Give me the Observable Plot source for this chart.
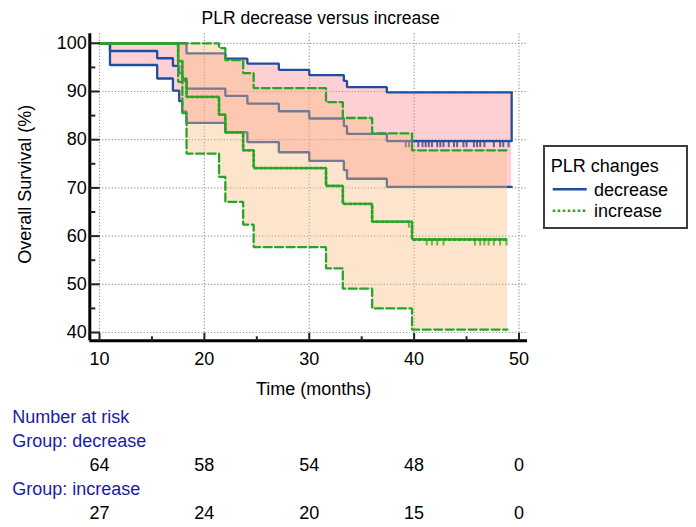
<!DOCTYPE html>
<html><head><meta charset="utf-8">
<script src="https://cdn.jsdelivr.net/npm/d3@7"></script>
<script src="https://cdn.jsdelivr.net/npm/@observablehq/plot@0.6"></script>
<style>
html,body{margin:0;padding:0;background:#fff;}
#wrap{position:relative;width:696px;height:527px;overflow:hidden;}
#wrap svg{display:block;}
#legend{position:absolute;left:543px;top:145px;width:145px;height:84px;box-sizing:border-box;border:2px solid #3c3c3c;background:#fff;font-family:"Liberation Sans",Arial,sans-serif;font-size:18px;line-height:18px;color:#000;}
#legend span{position:absolute;white-space:nowrap;}
#legend svg{position:absolute;left:0;top:0;overflow:visible;}
</style></head><body><div id="wrap"></div>
<script>
// ---- data ----
const title = "PLR decrease versus increase";
const xLabel = "Time (months)";
const yLabel = "Overall Survival (%)";
const legendTitle = "PLR changes";
const groups = ["decrease", "increase"];

const xMajor = [10, 20, 30, 40, 50];
const xMinor = [15, 25, 35, 45];
const yMajor = [40, 50, 60, 70, 80, 90, 100];
const yMinor = [45, 55, 65, 75, 85, 95];

// decrease group (Kaplan-Meier estimate with confidence band)
const decT   = [10, 11.0, 15.5, 17.0, 17.6, 17.9, 18.3, 22.0, 24.1, 27.1, 30.0, 33.3, 33.6, 37.4, 49.3];
const decEst = [100, 98.4, 96.9, 95.3, 93.8, 92.2, 90.6, 89.1, 87.5, 85.9, 84.4, 82.8, 81.2, 79.7, 79.7];
const decLow = [100, 95.5, 92.7, 90.2, 88.0, 85.8, 83.5, 81.5, 79.5, 77.4, 75.6, 73.7, 71.9, 70.2, 70.2];
const decUp  = [100, 100, 100, 100, 100, 100, 97.9, 96.8, 95.8, 94.5, 93.4, 92.2, 90.9, 89.8, 89.8];
const decCens = [39.2, 39.5, 39.8, 40.4, 40.8, 41.1, 41.4, 41.7, 42.2, 42.5, 42.8, 43.3, 43.8, 44.1, 44.7, 45.0, 45.7, 46.0, 46.3, 46.7, 47.6, 48.2, 48.5, 49.0];

// increase group
const incT   = [10, 17.5, 17.9, 18.3, 21.4, 22.0, 23.7, 24.7, 31.6, 33.2, 36.0, 39.8, 48.9];
const incEst = [100, 96.3, 92.6, 88.9, 85.2, 81.5, 77.8, 74.1, 70.4, 66.7, 63.0, 59.3, 59.3];
const incLow = [100, 92.0, 85.5, 77.1, 72.3, 67.1, 62.4, 57.7, 53.3, 49.1, 45.0, 40.6, 40.6];
const incUp  = [100, 100, 100, 100, 99.0, 96.5, 93.8, 90.7, 87.8, 84.5, 81.3, 77.8, 77.8];
const incCens = [39.5, 41.2, 41.7, 42.2, 42.8, 45.8, 46.3, 46.7, 47.1, 47.6, 48.2, 48.8];

// number at risk
const riskTimes = [10, 20, 30, 40, 50];
const riskDec = [64, 58, 54, 48, 0];
const riskInc = [27, 24, 20, 15, 0];

// ---- build ----
const BLUE = "#1f4e9e";
const GREEN = "#26a526";
const NAVY = "#1c1ca0";
const F = '"Liberation Sans", Arial, Helvetica, sans-serif';
const xDomain = [9.075, 50.81];
const yDomain = [38.28, 101.97];

function stepAt(T, V, t) { let v = V[0]; for (let i = 0; i < T.length; i++) if (T[i] <= t) v = V[i]; return v; }
const decRows = decT.map((t, i) => ({t, est: decEst[i], lo: decLow[i], hi: decUp[i]}));
const incRows = incT.map((t, i) => ({t, est: incEst[i], lo: incLow[i], hi: incUp[i]}));
const decCensRows = decCens.map(t => ({t, v: stepAt(decT, decEst, t)}));
const incCensRows = incCens.map(t => ({t, v: stepAt(incT, incEst, t)}));
const riskDecRows = riskTimes.map((t, i) => ({t, n: riskDec[i]}));
const riskIncRows = riskTimes.map((t, i) => ({t, n: riskInc[i]}));

const sym = (dx, dy) => ({draw(ctx) { ctx.moveTo(0, 0); ctx.lineTo(dx, dy); }});
const censTick = sym(0, 6);

const grid = {stroke: "#9a9a9a", strokeWidth: 1.2, strokeDasharray: "1.2,2"};
const lineOpt = (y, extra) => Object.assign({x: "t", y, curve: "step-after", strokeWidth: 2.3, strokeLinejoin: "miter"}, extra);
const txt = (extra) => Object.assign({fontSize: 18, fill: "#000", lineAnchor: "middle"}, extra);

const plot = Plot.plot({
  width: 696, height: 527,
  marginLeft: 89.3, marginRight: 169, marginTop: 33.3, marginBottom: 186.7,
  x: {domain: xDomain, axis: null},
  y: {domain: yDomain, axis: null},
  style: {fontFamily: F, fontSize: "18px", background: "white", color: "black", overflow: "visible"},
  marks: [
    Plot.ruleX(xMajor, grid),
    Plot.ruleY(yMajor, grid),
    // decrease
    Plot.dot(decCensRows, {x: "t", y: "v", symbol: censTick, stroke: BLUE, strokeWidth: 2, fill: "none"}),
    Plot.areaY(decRows, {x: "t", y1: "lo", y2: "hi", curve: "step-after", fill: "rgb(255,120,130)", fillOpacity: 0.35}),
    Plot.line(decRows, lineOpt("hi", {stroke: BLUE})),
    Plot.line(decRows, lineOpt("lo", {stroke: BLUE})),
    Plot.line(decRows, lineOpt("est", {stroke: BLUE})),
    Plot.ruleX(decRows.slice(-1), {x: "t", y1: "est", y2: "hi", stroke: BLUE, strokeWidth: 2.3}),
    // increase
    Plot.dot(incCensRows, {x: "t", y: "v", symbol: censTick, stroke: GREEN, strokeWidth: 2, fill: "none"}),
    Plot.areaY(incRows, {x: "t", y1: "lo", y2: "hi", curve: "step-after", fill: "rgb(250,188,128)", fillOpacity: 0.4}),
    Plot.line(incRows, lineOpt("hi", {stroke: GREEN, strokeDasharray: "8,3.5"})),
    Plot.line(incRows, lineOpt("lo", {stroke: GREEN, strokeDasharray: "8,3.5"})),
    Plot.line(incRows, lineOpt("est", {stroke: GREEN, strokeWidth: 2.8, strokeDasharray: "2.6,2.4"})),
    // axes
    Plot.ruleX([xDomain[0]], {stroke: "#000", strokeWidth: 3}),
    Plot.ruleY([yDomain[0]], {stroke: "#000", strokeWidth: 3}),
    Plot.dot(yMajor, {x: () => xDomain[0], y: d => d, symbol: sym(10, 0), stroke: "#222", strokeWidth: 2, fill: "none"}),
    Plot.dot(yMinor, {x: () => xDomain[0], y: d => d, symbol: sym(5.5, 0), stroke: "#222", strokeWidth: 2, fill: "none"}),
    Plot.dot(xMajor, {x: d => d, y: () => yDomain[0], symbol: sym(0, -8), stroke: "#222", strokeWidth: 2, fill: "none"}),
    Plot.dot(xMinor, {x: d => d, y: () => yDomain[0], symbol: sym(0, -4.5), stroke: "#222", strokeWidth: 2, fill: "none"}),
    Plot.text(yMajor, txt({x: () => xDomain[0], y: d => d, text: d => String(d), textAnchor: "end", dx: -3})),
    Plot.text(xMajor, txt({x: d => d, y: () => yDomain[0], text: d => String(d), textAnchor: "middle", dy: 18.7})),
    // titles
    Plot.text([title], txt({text: d => d, frameAnchor: "top", textAnchor: "middle", dx: 12, dy: -15.8, fontSize: 17.5})),
    Plot.text([xLabel], txt({text: d => d, frameAnchor: "bottom", textAnchor: "middle", dx: 5, dy: 48})),
    Plot.text([yLabel], txt({text: d => d, frameAnchor: "left", textAnchor: "middle", rotate: -90, dx: -64.3, dy: -3})),
    // number at risk
    Plot.text(["Number at risk"], txt({text: d => d, frameAnchor: "bottom-left", textAnchor: "start", dx: -77.6, dy: 76.6, fill: NAVY})),
    Plot.text(["Group: " + groups[0]], txt({text: d => d, frameAnchor: "bottom-left", textAnchor: "start", dx: -77.6, dy: 100.6, fill: NAVY})),
    Plot.text(riskDecRows, txt({x: "t", text: d => String(d.n), frameAnchor: "bottom", textAnchor: "middle", dy: 124.6})),
    Plot.text(["Group: " + groups[1]], txt({text: d => d, frameAnchor: "bottom-left", textAnchor: "start", dx: -77.6, dy: 148.2, fill: NAVY})),
    Plot.text(riskIncRows, txt({x: "t", text: d => String(d.n), frameAnchor: "bottom", textAnchor: "middle", dy: 172.2}))
  ]
});

const wrap = document.getElementById("wrap");
wrap.appendChild(plot);

// legend
const lg = document.createElement("div");
lg.id = "legend";
lg.innerHTML =
  '<svg width="141" height="80">' +
  '<line x1="7.7" x2="41.7" y1="42.3" y2="42.3" stroke="' + BLUE + '" stroke-width="2.5"/>' +
  '<line x1="7.7" x2="41.7" y1="63.7" y2="63.7" stroke="' + GREEN + '" stroke-width="2.5" stroke-dasharray="2.6,2.4"/>' +
  '</svg>' +
  '<span style="left:5.7px;top:9.5px">' + legendTitle + '</span>' +
  '<span style="left:49px;top:33.5px">' + groups[0] + '</span>' +
  '<span style="left:49px;top:55px">' + groups[1] + '</span>';
wrap.appendChild(lg);
</script></body></html>
